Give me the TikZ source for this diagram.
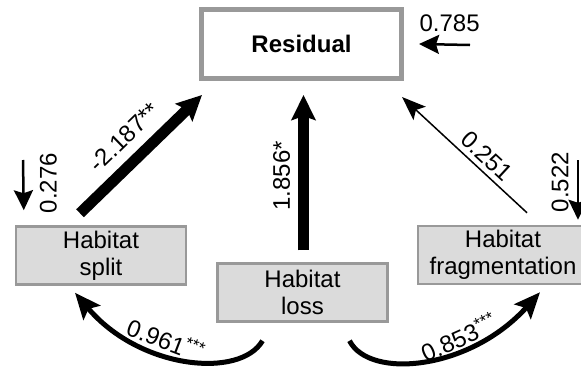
\documentclass[tikz,border=0pt]{standalone}
\usepackage{fontspec}
\setmainfont{Liberation Sans}
\usetikzlibrary{arrows.meta}

\tikzset{
  var/.style = {draw=gray!80, line width=2.5pt, fill=gray!28, align=center,
    minimum width=170pt, minimum height=58pt, inner sep=2pt},
  resid/.style = {draw=gray!80, line width=5pt, fill=white,
    font=\fontsize{24}{27}\selectfont\bfseries,
    minimum width=200pt, minimum height=69pt},
  heavy/.style = {line width=11pt, -{Stealth[length=25pt, width=24pt, inset=4pt]}},
  medium/.style = {line width=5pt, -{Stealth[length=26pt, width=22pt, inset=5pt]}},
  light/.style = {line width=1.5pt, -{Stealth[length=24pt, width=18pt, inset=5pt]}},
  err/.style = {line width=2.5pt, -{Stealth[length=20pt, width=19pt, inset=3pt]}},
  coef/.style = {inner sep=2pt}
}

\begin{document}
\begin{tikzpicture}[x=1pt, y=-1pt, font=\fontsize{24}{27}\selectfont]
  \useasboundingbox (0,0) rectangle (581,367);
  \clip (0,0) rectangle (581,367);
  % Variables
  \node[resid] (res) at (301.5,44) {Residual};
  \node[var] (split) at (101,255.5) {Habitat\\split};
  \node[var] (loss) at (302.5,292.5) {Habitat\\loss};
  \node[var] (frag) at (503,255) {Habitat\\fragmentation};
  % Error terms
  \coordinate (eres) at (470,45);
  \coordinate (esplit) at (23,160);
  \coordinate (efrag) at (578,160);
  \draw[err] (eres) -- ([xshift=15pt]res.east)
    node[coef, pos=0.4, above=10pt] (lres) {0.785};
  \draw[err] (esplit) -- ([xshift=9pt, yshift=15pt]split.north west)
    node[coef, pos=0.46, xshift=25pt, rotate=90] (lsplit) {0.276};
  \draw[err] (efrag) -- ([xshift=75pt, yshift=5pt]frag.north)
    node[coef, pos=0.37, xshift=-18pt, rotate=90] (lfrag) {0.522};
  % Paths to residual
  \draw[heavy] ([xshift=-21pt, yshift=12pt]split.north) -- ([xshift=3pt, yshift=-14pt]res.south west)
    node[coef, pos=0.5, sloped, above=8pt] (l1) {-2.187**};
  \draw[heavy] ([xshift=1pt, yshift=12pt]loss.north) -- ([xshift=2pt, yshift=-14pt]res.south)
    node[coef, pos=0.48, sloped, above=6pt] (l2) {1.856*};
  \draw[light] ([xshift=24pt, yshift=12pt]frag.north) -- ([xshift=-2pt, yshift=-16pt]res.south east)
    node[coef, pos=0.4, sloped, above=3pt] (l3) {0.251};
  % Paths from habitat loss
  \draw[medium] ([xshift=-40pt, yshift=-18pt]loss.south) .. controls +(-22,38) and +(65,77) .. ([xshift=-26pt, yshift=-7pt]split.south)
    node[coef, pos=0.55, xshift=-8pt, yshift=18pt, rotate=-21] (l4) {0.961\textsuperscript{***}};
  \draw[medium] ([xshift=47pt, yshift=-18pt]loss.south) .. controls +(20,39) and +(-70,78) .. ([xshift=37pt, yshift=-7pt]frag.south)
    node[coef, pos=0.6, xshift=10pt, yshift=17pt, rotate=24] (l5) {0.853\textsuperscript{***}};
\end{tikzpicture}
\end{document}
